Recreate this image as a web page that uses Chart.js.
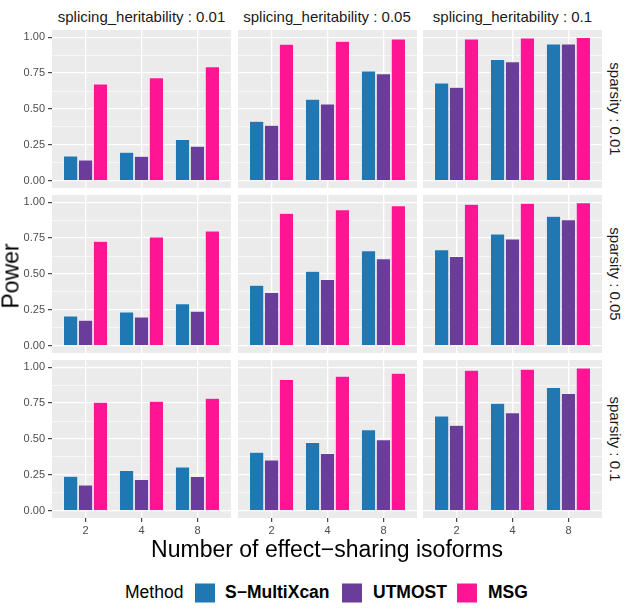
<!DOCTYPE html>
<html><head><meta charset="utf-8">
<script src="https://cdn.jsdelivr.net/npm/chart.js@4.4.1/dist/chart.umd.min.js"></script>
<style>
body{margin:0;background:#fff;width:630px;height:609px;overflow:hidden;position:relative;font-family:"Liberation Sans",Arial,sans-serif;}
canvas{position:absolute;}
.lbl{position:absolute;white-space:nowrap;transform:translate(-50%,-50%);line-height:1;}
.lg{position:absolute;white-space:nowrap;line-height:1;transform:translateY(-50%);}
.key{position:absolute;width:20px;height:19px;transform:translateY(-50%);}
</style></head><body>
<script>
// ----- data -----
const numIsoforms = ['2', '4', '8'];
const methods = ['S−MultiXcan', 'UTMOST', 'MSG'];
const heritabilities = ['0.01', '0.05', '0.1'];
const sparsities = ['0.01', '0.05', '0.1'];
const yTickValues = [0, 0.25, 0.5, 0.75, 1];
const yMinorValues = [0.125, 0.375, 0.625, 0.875];
// each array: heritability 0.01 (2,4,8), 0.05 (2,4,8), 0.1 (2,4,8)
const sMultiXcanSparsity001 = [0.173, 0.200, 0.288, 0.415, 0.569, 0.765, 0.682, 0.846, 0.954];
const utmostSparsity001     = [0.145, 0.171, 0.242, 0.387, 0.535, 0.746, 0.652, 0.829, 0.954];
const msgSparsity001        = [0.675, 0.719, 0.795, 0.952, 0.972, 0.988, 0.988, 0.995, 0.998];
const sMultiXcanSparsity005 = [0.209, 0.237, 0.293, 0.423, 0.519, 0.662, 0.669, 0.779, 0.902];
const utmostSparsity005     = [0.179, 0.202, 0.242, 0.372, 0.463, 0.607, 0.623, 0.744, 0.879];
const msgSparsity005        = [0.728, 0.758, 0.800, 0.923, 0.948, 0.976, 0.986, 0.993, 0.997];
const sMultiXcanSparsity01  = [0.241, 0.281, 0.306, 0.409, 0.477, 0.565, 0.661, 0.749, 0.859];
const utmostSparsity01      = [0.181, 0.218, 0.239, 0.354, 0.400, 0.495, 0.596, 0.684, 0.817];
const msgSparsity01         = [0.756, 0.763, 0.784, 0.915, 0.938, 0.959, 0.980, 0.987, 0.995];

const rowsData = [
  [sMultiXcanSparsity001, utmostSparsity001, msgSparsity001],
  [sMultiXcanSparsity005, utmostSparsity005, msgSparsity005],
  [sMultiXcanSparsity01, utmostSparsity01, msgSparsity01]
];
const colors = ['#1F78B4', '#6A3D9A', '#FF1493'];

// ----- layout -----
const FONT = '"Liberation Sans", Arial, sans-serif';
const rowTops = [30, 195, 360];
const colLefts = [52, 237.5, 423];
const PW = 179, PH = 158;

const bgPlugin = {
  id: 'panelBg',
  beforeDraw(chart) {
    const a = chart.chartArea, ctx = chart.ctx;
    ctx.save(); ctx.fillStyle = '#EBEBEB';
    ctx.fillRect(a.left, a.top, a.right - a.left, a.bottom - a.top);
    ctx.restore();
  }
};

function addLabel(text, x, y, css) {
  const d = document.createElement('div');
  d.className = 'lbl'; d.textContent = text;
  d.style.left = x + 'px'; d.style.top = y + 'px';
  Object.assign(d.style, css || {});
  document.body.appendChild(d);
  return d;
}

for (let r = 0; r < 3; r++) {
  for (let c = 0; c < 3; c++) {
    const isLeft = c === 0, isBottom = r === 2;
    const yAxisW = isLeft ? 52 : 0, xAxisH = isBottom ? 22 : 0;
    const cv = document.createElement('canvas');
    cv.width = PW + yAxisW; cv.height = PH + xAxisH;
    cv.style.left = (colLefts[c] - yAxisW) + 'px';
    cv.style.top = rowTops[r] + 'px';
    document.body.appendChild(cv);
    const series = rowsData[r];
    new Chart(cv, {
      type: 'bar',
      data: {
        datasets: methods.map((m, k) => ({
          label: m,
          data: numIsoforms.map((n, i) => ({ x: i + 1, y: series[k][c * 3 + i] })),
          backgroundColor: colors[k],
          borderColor: 'rgba(255,255,255,0.55)',
          borderWidth: 0.6,
          categoryPercentage: 0.8,
          barPercentage: 0.97
        }))
      },
      options: {
        responsive: false, animation: false, devicePixelRatio: 1,
        layout: { padding: 0 },
        plugins: { legend: { display: false }, tooltip: { enabled: false } },
        scales: {
          x: {
            type: 'linear', min: 0.4, max: 3.6, offset: false,
            border: { display: false },
            afterBuildTicks: s => { s.ticks = [1, 2, 3].map(v => ({ value: v })); },
            afterFit: s => { s.height = xAxisH; s.paddingLeft = 0; s.paddingRight = 0; },
            grid: { offset: false, color: '#FFFFFF', lineWidth: 1.3, drawTicks: isBottom, tickLength: 4, tickColor: '#333333', tickWidth: 1.1 },
            ticks: { display: isBottom, padding: 2, color: '#4D4D4D', font: { family: FONT, size: 11 },
              callback: v => numIsoforms[Math.round(v) - 1] }
          },
          y: {
            type: 'linear', min: -0.05, max: 1.05,
            border: { display: false },
            afterBuildTicks: s => { s.ticks = yTickValues.concat(yMinorValues).sort((a, b) => a - b).map(v => ({ value: v })); },
            afterFit: s => { s.width = yAxisW; s.paddingTop = 0; s.paddingBottom = 0; },
            grid: {
              offset: false,
              color: '#FFFFFF',
              lineWidth: ctx => (ctx.tick && yMinorValues.includes(ctx.tick.value)) ? 0.6 : 1.3,
              drawTicks: isLeft, tickLength: 4, tickWidth: 1.1,
              tickColor: ctx => (ctx.tick && yMinorValues.includes(ctx.tick.value)) ? 'rgba(0,0,0,0)' : '#333333'
            },
            ticks: { display: isLeft, padding: 3, color: '#4D4D4D', font: { family: FONT, size: 11 },
              callback: v => yTickValues.includes(v) ? v.toFixed(2) : '' }
          }
        }
      },
      plugins: [bgPlugin]
    });
  }
}

// strip labels
heritabilities.forEach((h, c) => addLabel('splicing_heritability : ' + h, colLefts[c] + PW / 2, 16, { fontSize: '15px', color: '#1A1A1A' }));
sparsities.forEach((s, r) => addLabel('sparsity : ' + s, 615, rowTops[r] + PH / 2, { fontSize: '15px', color: '#1A1A1A', writingMode: 'vertical-rl' }));

// axis titles
addLabel('Power', 11, 276, { fontSize: '23px', color: '#000', transform: 'translate(-50%,-50%) rotate(-90deg)' });
addLabel('Number of effect−sharing isoforms', 327, 549, { fontSize: '23px', color: '#000' });

// legend
const LY = 593;
function lg(text, x, css) {
  const d = document.createElement('div'); d.className = 'lg'; d.textContent = text;
  d.style.left = x + 'px'; d.style.top = LY + 'px'; Object.assign(d.style, css || {});
  document.body.appendChild(d);
}
lg('Method', 125, { fontSize: '17.5px', color: '#000' });
const keyX = [195, 342, 457], textX = [225, 373, 488];
methods.forEach((m, k) => {
  const key = document.createElement('div'); key.className = 'key';
  key.style.left = keyX[k] + 'px'; key.style.top = LY + 'px'; key.style.background = colors[k];
  document.body.appendChild(key);
  lg(m, textX[k], { fontSize: '17.5px', fontWeight: 'bold', color: '#000' });
});
</script>
</body></html>
